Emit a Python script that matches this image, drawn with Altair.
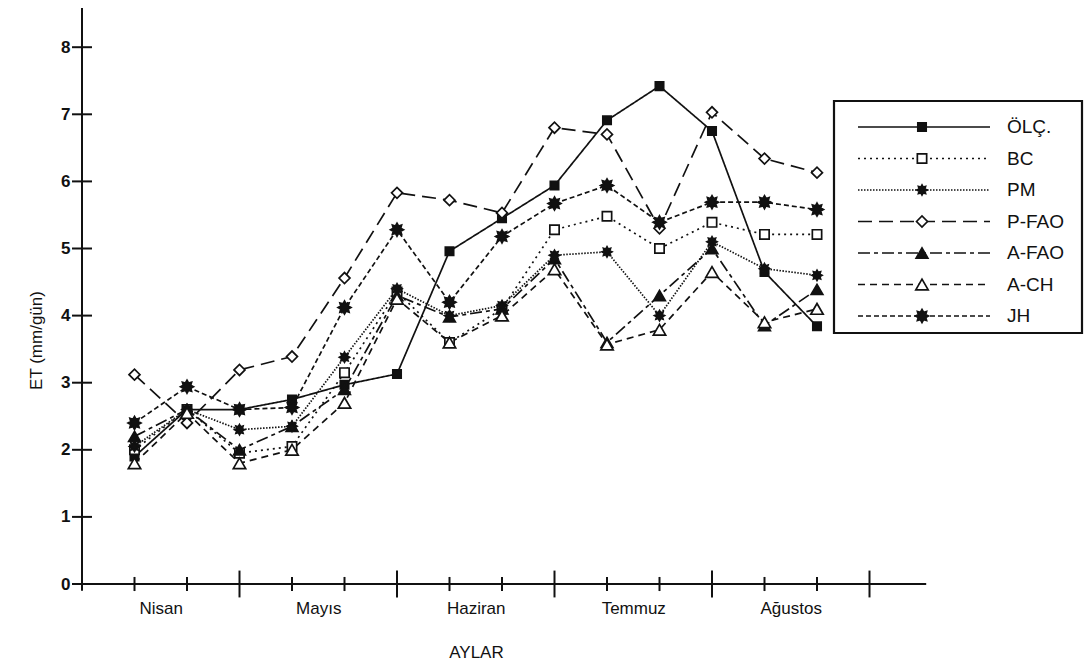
import math
import json
import altair as alt
import pandas as pd

# ---------------- data ----------------
months = ["Nisan", "Mayıs", "Haziran", "Temmuz", "Ağustos"]
month_centers = [1.5, 4.5, 7.5, 10.5, 13.5]
periods = list(range(1, 15))          # 10-day periods (3 per month)
series = ["ÖLÇ.", "BC", "PM", "P-FAO", "A-FAO", "A-CH", "JH"]

olc  = [1.90, 2.60, 2.60, 2.75, 2.97, 3.13, 4.96, 5.45, 5.94, 6.91, 7.42, 6.75, 4.65, 3.84]
bc   = [2.00, 2.60, 1.95, 2.05, 3.15, 4.35, 3.60, 4.10, 5.28, 5.48, 5.00, 5.39, 5.21, 5.21]
pm   = [2.05, 2.60, 2.30, 2.35, 3.38, 4.40, 4.00, 4.15, 4.90, 4.95, 4.00, 5.10, 4.70, 4.60]
pfao = [3.12, 2.40, 3.19, 3.39, 4.56, 5.83, 5.72, 5.53, 6.80, 6.70, 5.30, 7.03, 6.34, 6.13]
afao = [2.20, 2.60, 2.00, 2.35, 2.90, 4.30, 3.98, 4.10, 4.85, 3.60, 4.30, 5.00, 3.85, 4.39]
ach  = [1.80, 2.55, 1.80, 2.00, 2.70, 4.25, 3.60, 4.00, 4.69, 3.57, 3.79, 4.65, 3.90, 4.10]
jh   = [2.40, 2.94, 2.60, 2.63, 4.12, 5.28, 4.20, 5.18, 5.67, 5.94, 5.39, 5.69, 5.69, 5.58]

y_ticks = list(range(0, 9))
x_ticks = list(range(1, 16))

all_vals = [olc, bc, pm, pfao, afao, ach, jh]
rows = []
for name, vals in zip(series, all_vals):
    for k, v in zip(periods, vals):
        rows.append({"series": name, "k": k, "et": v})
df = pd.DataFrame(rows)

# ---------------- layout / style ----------------
W, H = 1002, 588
PX_X = 52.5
PX_Y = 67.1
X_MAX = W / PX_X
Y_MAX = 576 / PX_Y
Y_MIN = Y_MAX - H / PX_Y
FONT = "Liberation Sans"
INK = "#111111"


def star_path(n=8, r1=1.0, r2=0.62):
    pts = []
    for i in range(2 * n):
        r = r1 if i % 2 == 0 else r2
        a = math.pi * i / n - math.pi / 2
        pts.append(f"{r * math.cos(a):.3f},{r * math.sin(a):.3f}")
    return "M" + " L".join(pts) + " Z"


STAR = star_path()
shape_scale = alt.Scale(domain=series, range=["square", "square", STAR, "diamond",
                                              "triangle-up", "triangle-up", STAR])
size_scale = alt.Scale(domain=series, range=[70, 170, 100, 210, 80, 220, 100])
fill_scale = alt.Scale(domain=series, range=[INK, "white", INK, "white", INK, "white", INK])
dash_scale = alt.Scale(domain=series, range=[[1, 0], [2, 4], [1.5, 1.5], [14, 7],
                                             [12, 4, 4, 4], [7, 5], [5, 3]])

x_scale = alt.Scale(domain=[0, X_MAX], nice=False, zero=False)
y_scale = alt.Scale(domain=[Y_MIN, Y_MAX], nice=False, zero=False)

label_expr = json.dumps(months, ensure_ascii=False).replace('"', "'") + "[floor(datum.value/3)]"

x_axis = alt.Axis(values=month_centers, labelExpr=label_expr, title="AYLAR",
                  domain=False, ticks=False, tickSize=0, grid=False,
                  labelFont=FONT, labelFontSize=17, labelColor=INK, labelPadding=4,
                  titleFont=FONT, titleFontSize=17, titleFontWeight="normal", titleColor=INK,
                  titleX=394, titleY=56, titleBaseline="middle", titleAlign="center")
y_axis = alt.Axis(values=y_ticks, title="ET (mm/gün)", domain=False, ticks=False, tickSize=0,
                  grid=False, labelFont=FONT, labelFontSize=17, labelFontWeight="bold",
                  labelColor=INK, labelPadding=12,
                  titleFont=FONT, titleFontSize=17, titleFontWeight="normal", titleColor=INK,
                  titleX=-46, titleY=332, titleAngle=-90, titleAlign="center",
                  titleBaseline="middle")


def X(field):
    return alt.X(field, type="quantitative", scale=x_scale, axis=x_axis)


def Y(field):
    return alt.Y(field, type="quantitative", scale=y_scale, axis=y_axis)


# ---------------- axes drawn as crossing rules ----------------
xt = pd.DataFrame({"k": x_ticks})
x_tick_layer = alt.Chart(xt).transform_calculate(
    h="datum.k % 3 == 0 ? 0.2 : 0.105"
).transform_calculate(lo="-datum.h", hi="datum.h").mark_rule(
    color=INK, strokeWidth=2
).encode(x=X("k"), y=Y("lo"), y2="hi:Q")

yt = pd.DataFrame({"v": y_ticks})
y_tick_layer = alt.Chart(yt).transform_calculate(
    lo="-0.19", hi="0.19"
).mark_rule(color=INK, strokeWidth=2).encode(y=Y("v"), x=X("lo"), x2="hi:Q")

axes_df = pd.DataFrame({"x0": [-0.15, 0], "x1": [16.08, 0],
                        "y0": [0, -0.1], "y1": [0, Y_MAX]})
axis_lines = alt.Chart(axes_df).mark_rule(color=INK, strokeWidth=2).encode(
    x=X("x0"), x2="x1:Q", y=Y("y0"), y2="y1:Q")

# ---------------- data layers ----------------
lines = alt.Chart(df).mark_line(color=INK, strokeWidth=1.7).encode(
    x=X("k"), y=Y("et"),
    strokeDash=alt.StrokeDash("series:N", scale=dash_scale, legend=None),
    detail="series:N",
)
points = alt.Chart(df).mark_point(filled=True, stroke=INK, strokeWidth=1.7, opacity=1).encode(
    x=X("k"), y=Y("et"),
    shape=alt.Shape("series:N", scale=shape_scale, legend=None),
    size=alt.Size("series:N", scale=size_scale, legend=None),
    fill=alt.Fill("series:N", scale=fill_scale, legend=None),
)

# ---------------- hand-drawn legend box ----------------
def xd(px):
    return (px - 82) / PX_X


def yd(py):
    return (584 - py) / PX_Y


leg = pd.DataFrame({"series": series, "i": list(range(len(series)))})
leg["y"] = [yd(127 + 31.5 * i) for i in leg["i"]]
leg["x1"] = xd(858)
leg["x2"] = xd(990)
leg["xm"] = xd(922)
leg["xt"] = xd(1007)

box_df = pd.DataFrame({"a": [xd(834)], "b": [xd(1082)], "c": [yd(101)], "d": [yd(333)]})
box = alt.Chart(box_df).mark_rect(fill="white", stroke=INK, strokeWidth=2.2).encode(
    x=X("a"), x2="b:Q", y=Y("c"), y2="d:Q")

leg_lines = alt.Chart(leg).mark_rule(color=INK, strokeWidth=1.7).encode(
    x=X("x1"), x2="x2:Q", y=Y("y"),
    strokeDash=alt.StrokeDash("series:N", scale=dash_scale, legend=None))
leg_points = alt.Chart(leg).mark_point(filled=True, stroke=INK, strokeWidth=1.7, opacity=1).encode(
    x=X("xm"), y=Y("y"),
    shape=alt.Shape("series:N", scale=shape_scale, legend=None),
    size=alt.Size("series:N", scale=size_scale, legend=None),
    fill=alt.Fill("series:N", scale=fill_scale, legend=None),
)
leg_text = alt.Chart(leg).mark_text(align="left", baseline="middle", font=FONT,
                                    fontSize=19, color=INK).encode(
    x=X("xt"), y=Y("y"), text="series:N")

chart = alt.layer(
    axis_lines, x_tick_layer, y_tick_layer, lines, points,
    box, leg_lines, leg_points, leg_text,
).properties(
    width=W, height=H,
    autosize=alt.AutoSizeParams(type="none"),
    padding={"left": 74, "top": 0, "right": 0, "bottom": 67},
    background="white",
).configure_view(stroke=None)

chart.save("out.html", embed_options={"renderer": "svg", "actions": False})
